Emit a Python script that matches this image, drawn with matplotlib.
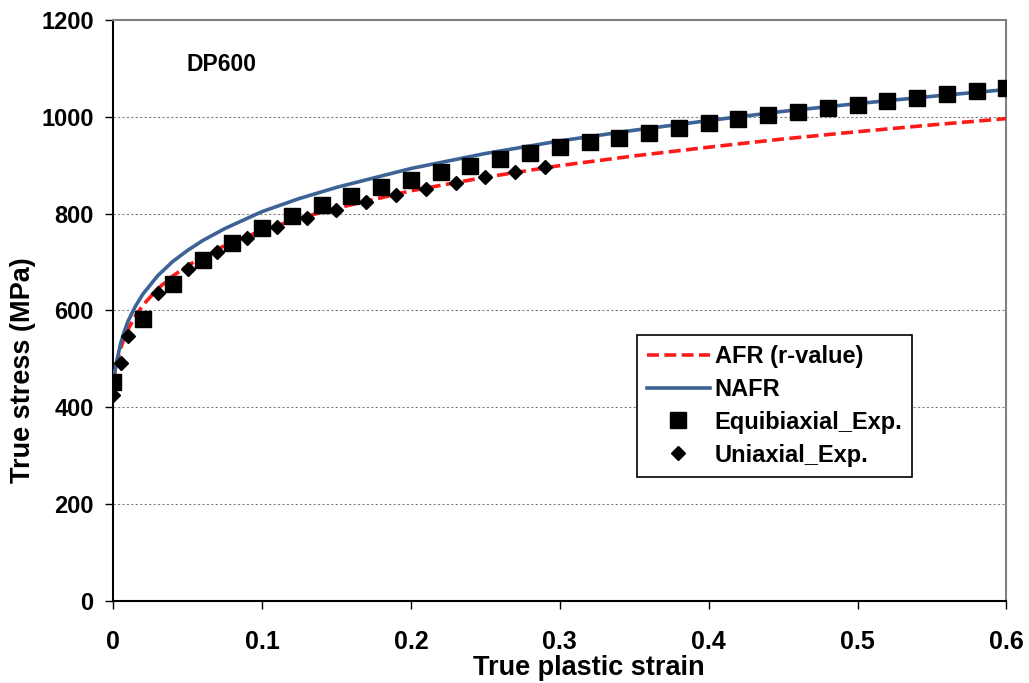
import matplotlib
matplotlib.use("Agg")
import matplotlib.pyplot as plt

plt.rcParams['font.family'] = ['Liberation Sans', 'DejaVu Sans']
plt.rcParams['font.weight'] = 'bold'

# Model curves
curve_strain = [0, 0.0025, 0.005, 0.0075, 0.01, 0.015, 0.02, 0.03, 0.04, 0.05, 0.06,
                0.075, 0.1, 0.125, 0.15, 0.2, 0.25, 0.3, 0.35, 0.4, 0.45, 0.5, 0.55, 0.6]
afr_stress = [451, 493, 522, 543, 561, 589, 611, 645, 671, 692, 711,
              734, 765, 790, 811, 847, 875, 899, 919, 937, 954, 969, 983, 996]
nafr_stress = [455, 497, 532, 557, 578, 609, 634, 672, 701, 724, 744,
               769, 804, 831, 854, 893, 924, 950, 972, 992, 1011, 1027, 1042, 1056]

# Experimental data
equi_strain = [0, 0.02, 0.04, 0.06, 0.08, 0.10, 0.12, 0.14, 0.16, 0.18, 0.20, 0.22,
               0.24, 0.26, 0.28, 0.30, 0.32, 0.34, 0.36, 0.38, 0.40, 0.42, 0.44,
               0.46, 0.48, 0.50, 0.52, 0.54, 0.56, 0.58, 0.60]
equi_stress = [452, 582, 654, 704, 739, 770, 795, 817, 836, 854, 870, 885,
               899, 913, 925, 937, 947, 957, 967, 977, 986, 995, 1003,
               1010, 1018, 1025, 1032, 1039, 1046, 1052, 1059]

uni_strain = [0, 0.005, 0.01, 0.03, 0.05, 0.07, 0.09, 0.11, 0.13, 0.15, 0.17,
              0.19, 0.21, 0.23, 0.25, 0.27, 0.29]
uni_stress = [425, 492, 548, 636, 685, 721, 750, 773, 791, 808, 824,
              838, 851, 863, 875, 886, 896]

x_ticks = [0, 0.1, 0.2, 0.3, 0.4, 0.5, 0.6]
x_ticklabels = ['0', '0.1', '0.2', '0.3', '0.4', '0.5', '0.6']
y_ticks = [0, 200, 400, 600, 800, 1000, 1200]

fig = plt.figure(figsize=(10.29, 6.83), dpi=100)
ax = fig.add_axes([0.110, 0.120, 0.868, 0.851])

for yv in y_ticks[1:-1]:
    ax.axhline(yv, color='#808080', lw=0.8, ls=(0, (2, 2)), zorder=1)

ax.plot(curve_strain, afr_stress, color='#ff1a1a', lw=2.6, ls=(0, (3.3, 1.5)),
        label='AFR (r-value)', zorder=3)
ax.plot(curve_strain, nafr_stress, color='#3d6396', lw=2.6,
        label='NAFR', zorder=3)
ax.plot(equi_strain, equi_stress, ls='none', marker='s', ms=11, color='black',
        label='Equibiaxial_Exp.', zorder=4)
ax.plot(uni_strain, uni_stress, ls='none', marker='D', ms=7.5, color='black',
        label='Uniaxial_Exp.', zorder=5)

ax.set_xlim(0, 0.6)
ax.set_ylim(0, 1200)
ax.set_xticks(x_ticks)
ax.set_xticklabels(x_ticklabels)
ax.set_yticks(y_ticks)
ax.tick_params(axis='both', direction='out', length=6, width=1)
ax.tick_params(axis='x', labelsize=18, pad=15)
ax.tick_params(axis='y', labelsize=17, pad=8)
for lab in ax.get_xticklabels() + ax.get_yticklabels():
    lab.set_fontweight('bold')

ax.spines['left'].set_color('black')
ax.spines['bottom'].set_color('black')
ax.spines['left'].set_linewidth(1.5)
ax.spines['bottom'].set_linewidth(1.5)
ax.spines['top'].set_color('#808080')
ax.spines['right'].set_color('#808080')
ax.spines['top'].set_linewidth(1.5)
ax.spines['right'].set_linewidth(1.5)

fig.text(589 / 1029, 1 - 668 / 683, 'True plastic strain', fontsize=19.5,
         fontweight='bold', ha='center', va='center')
fig.text(23 / 1029, 1 - 370 / 683, 'True stress (MPa)', fontsize=19.5,
         fontweight='bold', ha='center', va='center', rotation=90)

ax.text(0.0494, 1107, 'DP600', fontsize=16.5, fontweight='bold', va='center', ha='left')

leg = ax.legend(loc='upper left', bbox_to_anchor=(0.5866, 0.4578), fontsize=17,
                frameon=True, fancybox=False, edgecolor='black', framealpha=1,
                handlelength=2.65, handletextpad=0.22, labelspacing=0.42,
                borderpad=0.42, borderaxespad=0, shadow=False)
leg.get_frame().set_linewidth(1.2)
for t in leg.get_texts():
    t.set_fontweight('bold')

fig.savefig('out.png', dpi=100)
